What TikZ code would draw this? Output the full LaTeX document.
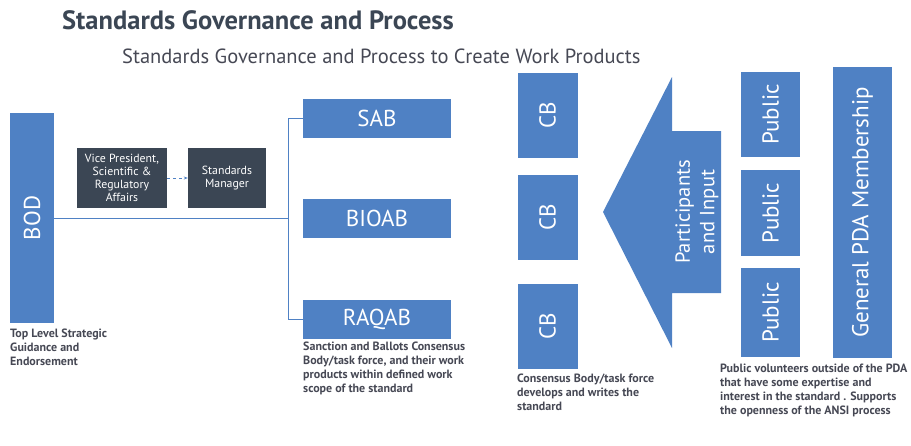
\documentclass[tikz,border=0pt]{standalone}
\usepackage{fontspec}
\setmainfont{PT Sans}
\usetikzlibrary{arrows.meta}

\definecolor{pdablue}{RGB}{79,129,196}
\definecolor{pdadark}{RGB}{59,70,84}
\definecolor{captext}{RGB}{70,72,84}

\begin{document}
\begin{tikzpicture}[x=1pt,y=-1pt,
    bluebox/.style={fill=pdablue,text=white,inner sep=0pt,font=\fontsize{23}{26}\selectfont},
    darkbox/.style={fill=pdadark,text=white,inner sep=0pt,align=center,
      minimum height=60,font=\fontsize{11.8}{12.8}\selectfont},
    upright/.style={rotate=90},
    caption/.style={anchor=north west,inner sep=0pt,align=left,text=captext,
      font=\bfseries\fontsize{12}{14}\selectfont},
    link/.style={pdablue,line width=1pt}]
    \useasboundingbox (0,0) rectangle (911,445);

    % Headings
    \node[anchor=base west,inner sep=0pt,text=pdadark,font=\bfseries\fontsize{26.5}{30}\selectfont] (title) at (62,29) {Standards Governance and Process};
    \node[anchor=base west,inner sep=0pt,text=captext,font=\fontsize{20.5}{24}\selectfont] (subtitle) at (122,63) {Standards Governance and Process to Create Work Products};

    % Board and staff
    \node[bluebox,upright,minimum width=210,minimum height=44] (bod) at (32,218) {BOD};
    \node[darkbox,minimum width=90] (vp) at (122,178) {Vice President,\\Scientific \&\\Regulatory\\Affairs};
    \node[darkbox,minimum width=78] (sm) at (227,178) {Standards\\Manager};
    \node[caption] (bodcap) at (10,329) {Top Level Strategic\\Guidance and\\Endorsement};

    % Advisory boards
    \node[bluebox,minimum width=148,minimum height=39] (sab) at (377,118.5) {SAB};
    \node[bluebox,minimum width=148,minimum height=39] (bioab) at (377,218) {BIOAB};
    \node[bluebox,minimum width=148,minimum height=39] (raqab) at (377,319) {RAQAB};
    \node[caption] (abcap) at (303,342) {Sanction and Ballots Consensus\\Body/task force, and their work\\products within defined work\\scope of the standard};

    % Consensus bodies
    \node[bluebox,upright,minimum width=85,minimum height=60] (cb1) at (547.5,115.5) {CB};
    \node[bluebox,upright,minimum width=85,minimum height=60] (cb2) at (547.5,217.5) {CB};
    \node[bluebox,upright,minimum width=85,minimum height=60] (cb3) at (547.5,326.5) {CB};
    \node[caption] (cbcap) at (517,374) {Consensus Body/task force\\develops and writes the\\standard};

    % Big input arrow
    \fill[pdablue] (603,212) -- (672,77) -- (672,131) -- (721,131) -- (721,293)
      -- (672,293) -- (672,348) -- cycle;
    \node[upright,text=white,align=center,inner sep=0pt,font=\fontsize{20.5}{24.5}\selectfont] (input) at (697,212) {Participants\\and Input};

    % Public and membership
    \node[bluebox,upright,minimum width=85,minimum height=59] (pub1) at (770.5,114.5) {Public};
    \node[bluebox,upright,minimum width=86,minimum height=59] (pub2) at (770.5,213) {Public};
    \node[bluebox,upright,minimum width=89,minimum height=59] (pub3) at (770.5,312.5) {Public};
    \node[bluebox,upright,minimum width=291,minimum height=59] (gpm) at (862.5,212.5) {General PDA Membership};
    \node[caption] (pubcap) at (720,364) {Public volunteers outside of the PDA\\that have some expertise and\\interest in the standard . Supports\\the openness of the ANSI process};

    % The lines
    \draw[pdablue,dashed,line width=0.8pt,-{Stealth[length=4pt]}] (vp) -- (sm);
    \coordinate (top) at (288,118.5);
    \coordinate (bot) at (288,319);
    \draw[link] (bod.south |- bioab) -- (288,218);
    \draw[link] (sab.west) -- (top) -- (bot) -- (raqab.west);
\end{tikzpicture}
\end{document}
